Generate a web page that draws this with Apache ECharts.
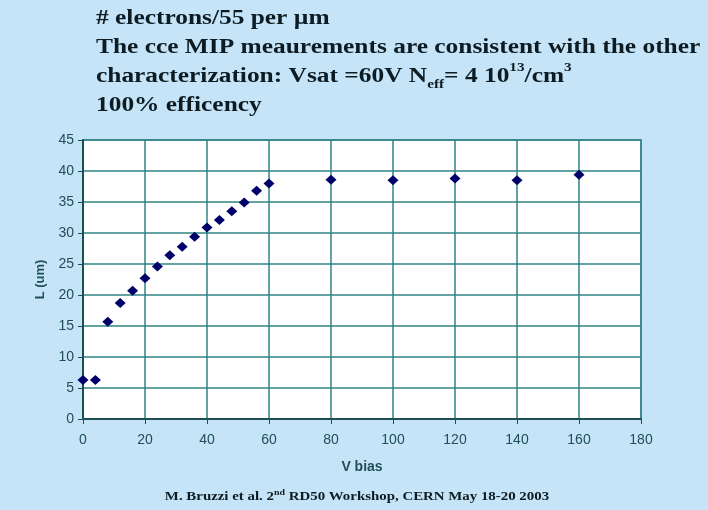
<!DOCTYPE html>
<html>
<head>
<meta charset="utf-8">
<script src="https://cdn.jsdelivr.net/npm/echarts@6/dist/echarts.min.js"></script>
<style>
  html, body { margin: 0; padding: 0; background: #c6e4f8; }
  #chart { width: 708px; height: 510px; }
</style>
</head>
<body>
<div id="chart"></div>
<script>
// Bias voltage (V) and collection length L (um)
const vBias = [0, 4, 8, 12, 16, 20, 24, 28, 32, 36, 40, 44, 48, 52, 56, 60, 80, 100, 120, 140, 160];
const lengthUm = [6.3, 6.3, 15.7, 18.7, 20.7, 22.7, 24.6, 26.4, 27.8, 29.4, 30.9, 32.1, 33.5, 34.9, 36.8, 38.0, 38.6, 38.5, 38.8, 38.5, 39.4];

const xTicks = { min: 0, max: 180, interval: 20 };
const yTicks = { min: 0, max: 45, interval: 5 };

const titleLines = [
  '{t|# electrons/55 per \u00b5m}',
  '{t|The cce MIP meaurements are consistent with the other}',
  '{t|characterization: Vsat =60V N}{sub|eff}{t|= 4 10}{sup|13}{t|/cm}{sup|3}',
  '{t|100% efficency}'
];
const footnote = '{f|M. Bruzzi et al. 2}{fs|nd}{f| RD50 Workshop, CERN May 18-20 2003}';

const points = vBias.map((v, i) => [v, lengthUm[i]]);

const chart = echarts.init(document.getElementById('chart'), null, { renderer: 'canvas' });

const tickColor = '#1f4d58';
const gridColor = '#2f8486';
const inkColor = '#0d1c22';
const serif = 'Liberation Serif';

chart.setOption({
  backgroundColor: '#c6e4f8',
  animation: false,
  graphic: [
    {
      type: 'text',
      x: 96, y: 4,
      scaleX: 1.27,
      style: {
        text: titleLines.join('\n'),
        textVerticalAlign: 'top',
        rich: {
          t: { fontFamily: serif, fontWeight: 'bold', fontSize: 20, fill: inkColor, lineHeight: 29 },
          sub: { fontFamily: serif, fontWeight: 'bold', fontSize: 12, fill: inkColor, lineHeight: 29, verticalAlign: 'bottom', padding: [9, 0, 0, 0] },
          sup: { fontFamily: serif, fontWeight: 'bold', fontSize: 12, fill: inkColor, lineHeight: 29, verticalAlign: 'top', padding: [0, 0, 8, 0] }
        }
      }
    },
    {
      type: 'text',
      x: 357, y: 497,
      scaleX: 1.24,
      style: {
        text: footnote,
        textAlign: 'center',
        textVerticalAlign: 'middle',
        rich: {
          f: { fontFamily: serif, fontWeight: 'bold', fontSize: 12, fill: inkColor, lineHeight: 16 },
          fs: { fontFamily: serif, fontWeight: 'bold', fontSize: 8, fill: inkColor, lineHeight: 16, verticalAlign: 'top', padding: [0, 0, 4, 0] }
        }
      }
    }
  ],
  grid: {
    left: 83, right: 67, top: 140, bottom: 91,
    show: true,
    backgroundColor: '#ffffff',
    borderColor: '#6e9c9e',
    borderWidth: 2
  },
  xAxis: {
    type: 'value',
    min: xTicks.min, max: xTicks.max, interval: xTicks.interval,
    name: 'V bias',
    nameLocation: 'middle',
    nameGap: 41,
    nameTextStyle: { fontFamily: 'Liberation Sans', fontWeight: 'bold', fontSize: 14, color: tickColor },
    axisLine: { show: true, lineStyle: { color: '#1d4f52', width: 2 } },
    axisTick: { show: true, inside: false, length: 5, lineStyle: { color: '#1d4f52', width: 1 } },
    axisLabel: { fontFamily: 'Liberation Sans', fontSize: 14, color: tickColor, margin: 14 },
    splitLine: { show: true, lineStyle: { color: gridColor, width: 1.5 } }
  },
  yAxis: {
    type: 'value',
    min: yTicks.min, max: yTicks.max, interval: yTicks.interval,
    name: 'L (um)',
    nameLocation: 'middle',
    nameGap: 36,
    nameRotate: 90,
    nameTextStyle: { fontFamily: 'Liberation Sans', fontWeight: 'bold', fontSize: 13, color: tickColor },
    axisLine: { show: true, lineStyle: { color: '#1d4f52', width: 2 } },
    axisTick: { show: true, inside: false, length: 5, lineStyle: { color: '#1d4f52', width: 1 } },
    axisLabel: { fontFamily: 'Liberation Sans', fontSize: 14, color: tickColor, margin: 9 },
    splitLine: { show: true, lineStyle: { color: gridColor, width: 1.5 } }
  },
  series: [
    {
      type: 'scatter',
      data: points,
      symbol: 'diamond',
      symbolSize: [11, 10],
      itemStyle: { color: '#00006b', opacity: 1 }
    }
  ]
});
</script>
</body>
</html>
